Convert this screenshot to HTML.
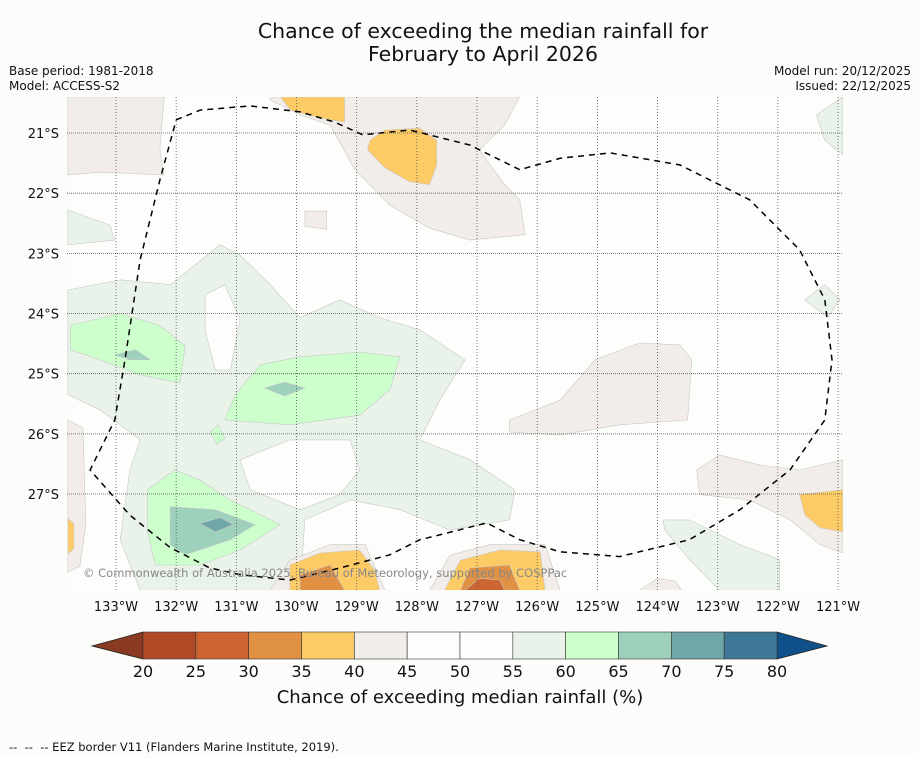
<!DOCTYPE html>
<html><head><meta charset="utf-8"><style>
body{margin:0;background:#fcfdfb;font-family:"Liberation Sans","DejaVu Sans",sans-serif;}
svg{display:block}
text{font-family:"DejaVu Sans","Liberation Sans",sans-serif;}
</style></head><body>
<svg id="chart" width="919" height="758" viewBox="0 0 919 758" xmlns="http://www.w3.org/2000/svg">
<rect width="919" height="758" fill="#fcfdfb"/>
<text x="483" y="38" text-anchor="middle" font-size="20.5" fill="#111">Chance of exceeding the median rainfall for</text>
<text x="483" y="61" text-anchor="middle" font-size="20.5" fill="#111">February to April 2026</text>
<text x="9" y="75" font-size="12" fill="#111">Base period: 1981-2018</text>
<text x="9" y="90" font-size="12" fill="#111">Model: ACCESS-S2</text>
<text x="911" y="75" text-anchor="end" font-size="12" fill="#111">Model run: 20/12/2025</text>
<text x="911" y="90" text-anchor="end" font-size="12" fill="#111">Issued: 22/12/2025</text>
<defs><clipPath id="mapclip"><rect x="67" y="97" width="776" height="493"/></clipPath></defs>
<rect x="67" y="97" width="776" height="493" fill="#fdfefc"/>
<g id="fills" clip-path="url(#mapclip)"></g>
<g id="grid"></g>
<path id="eez" fill="none" stroke="#000" stroke-width="1.5" stroke-dasharray="6,5" clip-path="url(#mapclip)"/>
<text x="83" y="577" font-size="11.5" fill="#888">© Commonwealth of Australia 2025, Bureau of Meteorology, supported by COSPPac</text>
<g id="axes"></g>
<g id="cbar"></g>
<text x="460" y="703" text-anchor="middle" font-size="18" fill="#111">Chance of exceeding median rainfall (%)</text>
<text x="9" y="751" font-size="11.5" fill="#111" xml:space="preserve">--  --  -- EEZ border V11 (Flanders Marine Institute, 2019).</text>
</svg>
<script>
const lonTicks=[-133,-132,-131,-130,-129,-128,-127,-126,-125,-124,-123,-122,-121];
const latTicks=[-21,-22,-23,-24,-25,-26,-27];
const latLabels=["21°S","22°S","23°S","24°S","25°S","26°S","27°S"];
const binEdges=[20,25,30,35,40,45,50,55,60,65,70,75,80];
const binColors=["#b04a26","#cd6533","#e09144","#fdcb65","#f2ede8","#fdfefc","#fdfefc","#e9f3ea","#ccffcc","#9dd1bb","#6fa7a8","#3e7896"];
const eezLine=[[-132,-20.78],[-131.6,-20.62],[-130.77,-20.55],[-129.94,-20.65],[-129.36,-20.82],[-128.9,-21.03],[-128.12,-20.95],[-127.12,-21.2],[-126.29,-21.61],[-125.62,-21.42],[-124.79,-21.33],[-123.63,-21.53],[-122.47,-22.11],[-121.64,-22.94],[-121.22,-23.77],[-121.1,-24.77],[-121.22,-25.77],[-121.8,-26.6],[-122.63,-27.26],[-123.47,-27.76],[-124.63,-28.04],[-125.62,-27.96],[-126.29,-27.76],[-126.84,-27.48],[-127.62,-27.68],[-127.95,-27.76],[-128.45,-28.01],[-129.28,-28.23],[-130.11,-28.43],[-130.94,-28.34],[-131.44,-28.23],[-132.1,-27.89],[-132.77,-27.35],[-133.43,-26.6],[-133.02,-25.77],[-132.85,-24.77],[-132.6,-23.11],[-132.27,-21.78],[-132,-20.78]];
const regions=[
[4,[[-133.8,-20.4],[-132.2,-20.4],[-132.27,-21.28],[-132.2,-21.7],[-133.27,-21.65],[-133.8,-21.7]]],
[4,[[-130.44,-20.4],[-126.29,-20.4],[-126.54,-20.87],[-126.96,-21.28],[-126.54,-21.86],[-126.29,-22.11],[-126.2,-22.69],[-127.12,-22.78],[-127.79,-22.58],[-128.45,-22.2],[-129.03,-21.61],[-129.44,-20.87],[-129.94,-20.7],[-130.44,-20.45]]],
[3,[[-130.27,-20.4],[-129.2,-20.4],[-129.2,-20.82],[-129.6,-20.75],[-130.1,-20.62]]],
[3,[[-128.78,-21.12],[-128.53,-20.95],[-127.95,-20.92],[-127.67,-21.12],[-127.67,-21.53],[-127.79,-21.86],[-128.12,-21.81],[-128.53,-21.58],[-128.82,-21.28]]],
[4,[[-129.86,-22.3],[-129.5,-22.3],[-129.5,-22.6],[-129.86,-22.55]]],
[4,[[-126.46,-25.77],[-125.62,-25.44],[-125.04,-24.77],[-124.3,-24.49],[-123.63,-24.52],[-123.43,-24.77],[-123.5,-25.77],[-124.63,-25.85],[-125.62,-26.02],[-126.46,-25.97]]],
[4,[[-123.35,-26.6],[-122.97,-26.35],[-122.3,-26.52],[-121.64,-26.6],[-120.92,-26.43],[-120.92,-27.98],[-121.3,-27.84],[-121.8,-27.43],[-122.47,-27.1],[-123.3,-27.01]]],
[3,[[-121.64,-27.01],[-120.92,-26.93],[-120.92,-27.63],[-121.3,-27.56],[-121.55,-27.35]]],
[4,[[-133.8,-25.77],[-133.55,-25.9],[-133.5,-27.5],[-133.6,-28.2],[-133.8,-28.3]]],
[3,[[-133.8,-27.4],[-133.7,-27.5],[-133.7,-27.9],[-133.8,-28]]],
[7,[[-133.8,-23.61],[-132.93,-23.44],[-132.1,-23.52],[-131.27,-22.86],[-130.94,-23.03],[-130.44,-23.52],[-129.94,-24.07],[-129.28,-23.77],[-128.62,-24.07],[-127.95,-24.27],[-127.2,-24.77],[-127.62,-25.44],[-127.95,-26.1],[-127.12,-26.43],[-126.37,-26.93],[-126.46,-27.43],[-127.45,-27.6],[-128.28,-27.26],[-129.11,-27.1],[-129.86,-27.43],[-129.94,-28.6],[-132.6,-28.6],[-132.93,-27.76],[-132.77,-26.6],[-132.6,-26.1],[-133.27,-25.6],[-133.8,-25.35]]],
[5,[[-130.94,-26.43],[-130.11,-26.1],[-129.11,-26.1],[-128.95,-26.6],[-129.28,-27.01],[-129.94,-27.26],[-130.77,-26.93]]],
[5,[[-131.52,-23.69],[-131.19,-23.52],[-130.94,-24.1],[-131.1,-24.94],[-131.35,-24.94],[-131.52,-24.27]]],
[8,[[-133.76,-24.2],[-132.93,-24.0],[-132.27,-24.2],[-131.85,-24.54],[-131.94,-25.15],[-132.6,-25.02],[-133.27,-24.77],[-133.76,-24.6]]],
[8,[[-131.02,-25.35],[-130.6,-24.85],[-129.94,-24.72],[-128.95,-24.64],[-128.28,-24.72],[-128.45,-25.27],[-128.95,-25.69],[-130.11,-25.85],[-131.19,-25.77]]],
[8,[[-131.44,-25.97],[-131.3,-25.85],[-131.19,-26.07],[-131.32,-26.18]]],
[8,[[-132.48,-26.93],[-132.02,-26.6],[-131.6,-26.77],[-131.1,-27.1],[-130.27,-27.51],[-130.94,-27.93],[-131.6,-28.18],[-132.35,-28.18],[-132.48,-27.6]]],
[9,[[-132.1,-27.21],[-131.35,-27.26],[-130.69,-27.51],[-131.1,-27.76],[-131.85,-28.01],[-132.1,-27.84]]],
[9,[[-133.02,-24.69],[-132.68,-24.6],[-132.43,-24.77],[-132.77,-24.77]]],
[9,[[-130.53,-25.24],[-130.2,-25.14],[-129.86,-25.24],[-130.2,-25.37]]],
[10,[[-131.6,-27.49],[-131.27,-27.39],[-131.05,-27.51],[-131.35,-27.63]]],
[7,[[-123.91,-27.43],[-123.47,-27.43],[-122.63,-27.84],[-121.97,-28.09],[-121.97,-28.6],[-122.97,-28.6],[-123.47,-28.09],[-123.88,-27.6]]],
[7,[[-121.55,-23.77],[-121.22,-23.52],[-120.97,-23.77],[-121.17,-24.07]]],
[7,[[-121.36,-20.7],[-120.92,-20.4],[-120.92,-21.37],[-121.22,-21.12]]],
[7,[[-133.8,-22.28],[-133.1,-22.53],[-133.02,-22.78],[-133.8,-22.86]]],
[4,[[-130.44,-28.6],[-130.11,-28.1],[-129.44,-27.84],[-128.86,-27.84],[-128.53,-28.6]]],
[3,[[-130.11,-28.18],[-129.61,-27.98],[-128.95,-27.93],[-128.7,-28.27],[-128.62,-28.6],[-130.11,-28.6]]],
[2,[[-129.94,-28.34],[-129.44,-28.18],[-129.2,-28.6],[-129.94,-28.6]]],
[4,[[-127.79,-28.6],[-127.45,-28.02],[-126.79,-27.84],[-125.87,-27.84],[-125.62,-28.6]]],
[3,[[-127.54,-28.6],[-127.28,-28.1],[-126.62,-27.93],[-125.95,-27.96],[-125.87,-28.6]]],
[2,[[-127.28,-28.6],[-127.12,-28.23],[-126.46,-28.18],[-126.29,-28.6]]],
[1,[[-127.2,-28.6],[-126.96,-28.4],[-126.62,-28.43],[-126.54,-28.6]]],
[4,[[-124.3,-28.6],[-124.0,-28.4],[-123.7,-28.45],[-123.6,-28.6]]]
];
const NS="http://www.w3.org/2000/svg";
const X=lon=>116+(lon+133)*60.17;
const Y=lat=>133+(-21-lat)*60.17;
function mk(tag,attrs,parent){const e=document.createElementNS(NS,tag);for(const k in attrs)e.setAttribute(k,attrs[k]);parent.appendChild(e);return e;}
const fills=document.getElementById('fills');
regions.forEach((r,i)=>{
  const p=mk('polygon',{points:r[1].map(q=>X(q[0]).toFixed(1)+','+Y(q[1]).toFixed(1)).join(' '),fill:binColors[r[0]],stroke:'#c8c8c8','stroke-width':0.6},fills);
  
  
});
const grid=document.getElementById('grid');
lonTicks.forEach(l=>{
  const ln=mk('line',{x1:X(l),x2:X(l),y1:97,y2:590,stroke:'#555','stroke-width':0.8,'stroke-dasharray':'1,2'},grid);
  
  
});
latTicks.forEach(l=>{
  const ln=mk('line',{x1:67,x2:843,y1:Y(l),y2:Y(l),stroke:'#555','stroke-width':0.8,'stroke-dasharray':'1,1'},grid);
  
  
});
document.getElementById('eez').setAttribute('d','M'+eezLine.map(q=>X(q[0]).toFixed(1)+' '+Y(q[1]).toFixed(1)).join(' L'));
const axes=document.getElementById('axes');
lonTicks.forEach(l=>{
  const t=mk('text',{x:X(l),y:611,'text-anchor':'middle','font-size':13,fill:'#111'},axes);
  t.textContent=(-l)+'°W';
  
  
});
latTicks.forEach((l,i)=>{
  const t=mk('text',{x:59,y:Y(l)+5,'text-anchor':'end','font-size':13,fill:'#111'},axes);
  t.textContent=latLabels[i];
  
  
});
const cb=document.getElementById('cbar');
const cx=v=>143+(v-20)*(634/60);
const tl=mk('polygon',{points:`92,646 ${cx(20)},632 ${cx(20)},659`,fill:'#8b3a22',stroke:'#222','stroke-width':0.8},cb);


const tr=mk('polygon',{points:`827,646 ${cx(80)},632 ${cx(80)},659`,fill:'#10508a',stroke:'#222','stroke-width':0.8},cb);


binColors.forEach((c,i)=>{
  const r=mk('rect',{x:cx(binEdges[i]),y:632,width:cx(binEdges[i+1])-cx(binEdges[i]),height:27,fill:c,stroke:'#333','stroke-width':0.6},cb);
  
  
});
binEdges.forEach(v=>{
  const t=mk('text',{x:cx(v),y:677,'text-anchor':'middle','font-size':16,fill:'#111'},cb);
  t.textContent=v;
  
  
});
</script>
</body></html>
